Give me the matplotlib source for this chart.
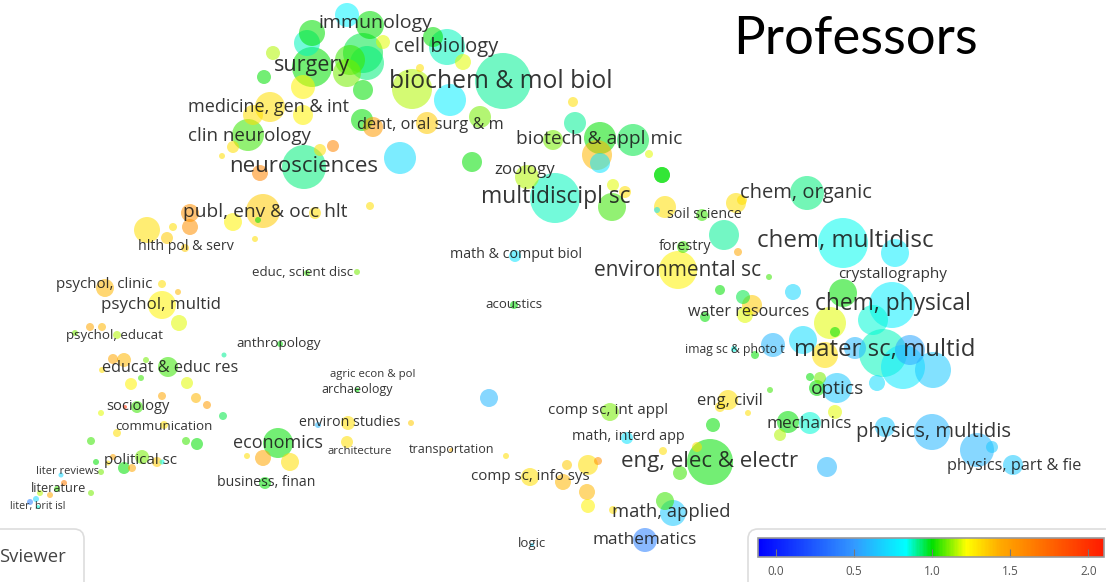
import numpy as np
import matplotlib
matplotlib.use("Agg")
import matplotlib.pyplot as plt
from matplotlib.colors import LinearSegmentedColormap, Normalize
from matplotlib.patches import FancyBboxPatch
import matplotlib.colorbar as mcolorbar

# bubbles: map position, radius, overlay score
bub_x = [347, 370, 312, 307, 312, 350, 363, 367, 347, 303, 273, 264, 363, 383, 412,
         362, 373, 420, 447, 433, 463, 503, 450, 480, 427, 400, 472, 573, 575, 600,
         633, 597, 600, 553, 662, 649, 527, 555, 612, 613, 625, 662, 665, 657, 702,
         736, 724, 738, 683, 678, 720, 807, 843, 895, 769, 742,
         793, 743, 752, 745, 843, 892, 873, 830, 835, 803, 773, 825, 855, 883, 910,
         903, 933, 877, 810, 820, 817, 837, 770, 835, 748, 788, 810, 780, 885, 932,
         977, 992, 1013, 827,
         728, 720, 713, 710, 680, 697, 663, 610, 627, 598, 588, 567, 530, 563, 587,
         588, 665, 673, 613, 645, 532, 489, 514, 451, 506, 411, 515, 705, 755, 734,
         105, 162, 178, 162, 179, 90, 102, 75, 117, 113, 124, 168, 146, 102, 131,
         141, 187, 162, 196, 207, 125, 137, 101, 223, 117, 164, 91, 186, 197, 142,
         124, 132, 157, 113, 96, 108, 162, 61, 64, 101, 57, 50, 40, 91, 30, 36, 38,
         280, 224, 357, 318, 348, 347, 278, 263, 290, 247, 265, 357, 307,
         270, 253, 303, 248, 233, 222, 320, 333, 304, 260, 370, 263, 190, 190, 233,
         258, 315, 173, 147, 167, 255, 185]
bub_y = [15, 25, 33, 43, 67, 60, 53, 63, 73, 87, 53, 77, 90, 42, 89,
         120, 127, 68, 47, 37, 62, 81, 100, 117, 123, 158, 162, 102, 123, 138,
         140, 155, 163, 140, 175, 154, 177, 198, 207, 185, 192, 175, 207, 210, 215,
         203, 235, 252, 247, 270, 290, 193, 243, 253, 277, 200,
         292, 297, 305, 315, 293, 305, 320, 323, 332, 340, 345, 355, 348, 353, 350,
         367, 370, 383, 377, 378, 388, 388, 390, 412, 413, 422, 423, 435, 427, 432,
         450, 447, 465, 467,
         400, 407, 425, 462, 473, 447, 451, 412, 438, 461, 465, 465, 477, 482, 492,
         506, 501, 513, 510, 540, 545, 398, 305, 450, 456, 423, 256, 317, 355, 349,
         288, 284, 292, 305, 323, 327, 327, 333, 335, 359, 360, 367, 360, 370, 384,
         378, 383, 396, 398, 405, 407, 407, 413, 416, 433, 425, 441, 441, 444, 457,
         468, 468, 462, 457, 462, 463, 462, 475, 483, 472, 489, 495, 493, 493, 502, 499, 507,
         344, 355, 390, 425, 423, 442, 443, 458, 462, 456, 483, 272, 273,
         107, 115, 115, 135, 147, 156, 150, 146, 167, 173, 206, 211, 213, 227, 222,
         220, 213, 227, 230, 238, 239, 248]
bub_r = [12, 14, 13, 13, 20, 15, 20, 17, 14, 12, 7, 7, 10, 7, 20,
         11, 10, 4, 18, 10, 8, 28, 16, 11, 11, 16, 10, 5, 11, 16,
         16, 15, 10, 10, 8, 4, 12, 25, 14, 6, 6, 8, 11, 3, 6,
         10, 15, 4, 6, 19, 5, 17, 25, 14, 3, 5,
         8, 7, 10, 8, 14, 23, 15, 16, 5, 14, 12, 13, 11, 24, 15,
         22, 18, 8, 4, 6, 8, 15, 3, 7, 3, 11, 11, 6, 10, 18,
         17, 6, 10, 10,
         10, 5, 7, 23, 7, 5, 4, 9, 6, 4, 10, 5, 9, 8, 8,
         7, 9, 13, 4, 12, 2, 9, 4, 2, 3, 3, 6, 5, 4, 3,
         9, 4, 3, 14, 8, 4, 4, 3, 4, 5, 7, 10, 3, 3, 6,
         3, 6, 4, 5, 4, 2, 6, 3, 4, 4, 4, 4, 4, 6, 7,
         6, 4, 5, 3, 3, 2.5, 2.5, 2.5, 3, 3, 3, 3, 3, 3, 3, 3, 2,
         3, 2.5, 2.5, 3, 7, 6, 15, 8, 9, 3, 6, 3, 3,
         15, 10, 10, 16, 6, 3, 6, 6, 22, 8, 4, 17, 9, 8, 9,
         3, 6, 4, 13, 6, 3, 4]
bub_v = [0.8, 1.0, 1.0, 0.88, 1.0, 1.05, 0.95, 0.92, 1.1, 1.25, 1.15, 1.0, 1.0, 1.2, 1.15,
         1.0, 1.5, 1.3, 0.88, 1.0, 1.2, 0.9, 0.78, 1.1, 1.35, 0.72, 1.0, 1.3, 0.9, 1.0,
         0.95, 1.4, 0.75, 1.1, 1.0, 1.2, 1.15, 0.88, 1.05, 1.2, 1.3, 1.0, 1.3, 0.75, 1.05,
         1.3, 0.9, 1.45, 1.05, 1.25, 1.0, 0.92, 0.84, 0.78, 1.05, 1.3,
         0.7, 0.95, 1.35, 1.2, 1.0, 0.78, 0.86, 1.2, 1.0, 0.72, 0.6, 1.3, 0.6, 0.88, 0.55,
         0.76, 0.66, 0.72, 1.0, 1.1, 1.0, 0.66, 1.05, 1.2, 1.3, 1.0, 0.86, 1.15, 0.65, 0.6,
         0.6, 0.65, 0.66, 0.6,
         1.3, 1.3, 1.0, 1.0, 1.05, 1.3, 1.3, 1.1, 0.75, 1.55, 1.3, 1.35, 1.3, 1.4, 1.4,
         1.25, 1.05, 0.66, 1.3, 0.4, 0.7, 0.6, 1.0, 1.4, 1.3, 1.35, 0.75, 1.0, 1.0, 0.85,
         1.4, 1.3, 1.4, 1.25, 1.2, 1.45, 1.4, 1.1, 1.15, 1.45, 1.4, 1.05, 1.1, 1.3, 1.25,
         1.05, 1.2, 1.45, 1.4, 1.5, 2.0, 1.05, 1.2, 0.95, 1.3, 1.3, 1.05, 1.05, 1.0, 1.1,
         1.0, 1.45, 1.35, 1.45, 1.0, 1.3, 0.85, 0.7, 1.65, 1.1, 1.05, 1.45, 1.15, 1.1, 0.4, 0.7, 0.85,
         1.0, 0.9, 1.0, 0.6, 1.3, 1.3, 1.0, 1.45, 1.3, 1.3, 1.0, 1.1, 1.05,
         1.3, 1.3, 1.25, 1.05, 1.3, 1.3, 1.3, 1.6, 0.92, 1.6, 1.3, 1.35, 1.55, 1.55, 1.25,
         1.0, 1.3, 1.3, 1.3, 1.35, 1.3, 1.35]

# labels
lab_text = ["immunology", "cell biology", "surgery", "biochem & mol biol", "medicine, gen & int",
            "clin neurology", "dent, oral surg & m", "biotech & appl mic", "neurosciences", "zoology",
            "multidiscipl sc", "chem, organic", "publ, env & occ hlt", "soil science", "hlth pol & serv",
            "chem, multidisc", "forestry", "math & comput biol", "environmental sc", "educ, scient disc",
            "crystallography", "psychol, clinic", "psychol, multid", "acoustics", "chem, physical",
            "water resources", "psychol, educat", "anthropology", "imag sc & photo t", "mater sc, multid",
            "educat & educ res", "agric econ & pol", "archaeology", "optics", "sociology",
            "eng, civil", "comp sc, int appl", "environ studies", "mechanics", "communication",
            "physics, multidis", "math, interd app", "economics", "architecture", "transportation",
            "eng, elec & electr", "political sc", "physics, part & fie", "liter reviews", "comp sc, info sys",
            "business, finan", "literature", "liter, brit isl", "math, applied", "logic", "mathematics"]
lab_x = [375, 446, 312, 501, 268, 249, 430, 599, 304, 525,
         556, 806, 265, 704, 186, 845, 685, 516, 678, 303,
         893, 104, 161, 514, 893, 749, 115, 279, 735, 885,
         170, 373, 357, 837, 138, 730, 608, 350, 809, 164,
         933, 628, 278, 360, 452, 710, 140, 1014, 67, 530,
         266, 58, 38, 671, 532, 645]
lab_y = [23, 47, 66, 81, 107, 136, 125, 139, 166, 170,
         197, 193, 212, 214, 247, 241, 246, 255, 270, 273,
         275, 284, 305, 304, 304, 312, 336, 344, 349, 350,
         368, 375, 390, 389, 406, 401, 411, 423, 424, 426,
         432, 437, 443, 452, 450, 462, 460, 466, 472, 477,
         483, 488, 506, 512, 544, 540]
lab_size = [14, 14.5, 15.5, 17.8, 13, 13.5, 11.8, 13.8, 16, 12.2,
            16.4, 14.5, 13.8, 10.2, 10.2, 17.4, 10.4, 10.3, 15, 9.5,
            11, 10.9, 12.2, 9.5, 16.4, 11.6, 9.6, 9.7, 8.8, 17.3,
            11.7, 8.2, 9, 13.8, 10.5, 12, 11, 10.2, 12.3, 9.6,
            14.5, 10.4, 13, 8.2, 9, 16, 10.9, 11.7, 8, 10.9,
            10.1, 9.2, 7.7, 13.2, 9.5, 12.3]

cbar_ticks = [0.0, 0.5, 1.0, 1.5, 2.0]
vmin, vmax = -0.115, 2.1

W, H = 1106, 582
cmap = LinearSegmentedColormap.from_list("vos", [
    (0.0, "#0000ff"), (0.277, "#3399ff"), (0.427, "#00ffff"), (0.503, "#00e000"),
    (0.603, "#ffff00"), (0.70, "#ffaa00"), (1.0, "#ff1a00")])
norm = Normalize(vmin, vmax)

fig = plt.figure(figsize=(W / 100, H / 100), dpi=100)
ax = fig.add_axes([0, 0, 1, 1])
ax.set_xlim(0, W)
ax.set_ylim(H, 0)
ax.axis("off")

order = np.argsort(bub_r)[::-1]
bx = np.array(bub_x)[order]
by = np.array(bub_y)[order]
br = np.array(bub_r)[order]
bv = np.array(bub_v)[order]
ax.scatter(bx, by, s=(br * 2 * 0.72) ** 2, c=bv, cmap=cmap, norm=norm,
           alpha=0.55, linewidths=0, zorder=2)

for t, x, y, fs in zip(lab_text, lab_x, lab_y, lab_size):
    ax.text(x, y, t, fontsize=fs, family="Open Sans", color="#1a1a1a", alpha=0.88,
            ha="center", va="center", zorder=3)

ax.text(855, 40, "Professors", fontsize=38, family="Lato", color="black",
        ha="center", va="center", zorder=4)

# legend boxes
ax.add_patch(FancyBboxPatch((748, 529), 400, 80, boxstyle="round,pad=0,rounding_size=10",
                            fc="white", ec="#dddddd", lw=1.2, zorder=4))
ax.add_patch(FancyBboxPatch((-40, 529), 124, 80, boxstyle="round,pad=0,rounding_size=10",
                            fc="white", ec="#dddddd", lw=1.2, zorder=4))
ax.text(-1, 557, "Sviewer", fontsize=13.3, family="Open Sans", color="#444444",
        ha="left", va="center", zorder=5)

cax = fig.add_axes([758 / W, (H - 557) / H, 346 / W, 19 / H])
cb = mcolorbar.ColorbarBase(cax, cmap=cmap, norm=norm, orientation="horizontal", ticks=cbar_ticks)
cb.outline.set_edgecolor("#999999")
cb.outline.set_linewidth(1.2)
cax.tick_params(direction="in", length=6, color="#777777", labelsize=8.5,
                labelcolor="#555555", pad=6)
cax.set_xticklabels(["%.1f" % t for t in cbar_ticks], family="Open Sans")

fig.savefig("out.png", dpi=100)
